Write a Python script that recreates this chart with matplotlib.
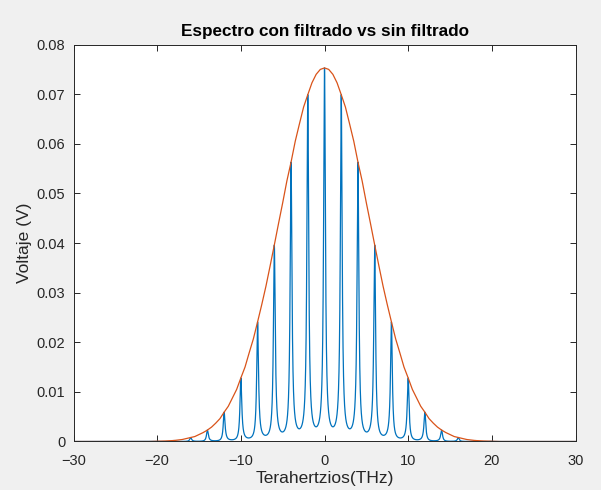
import numpy as np
import matplotlib
matplotlib.use("Agg")
import matplotlib.pyplot as plt

# Envelope (orange) at |x| (THz); curve is symmetric about 0
env_pos = [0.0, 0.5, 1.0, 1.5, 2.0, 2.5, 3.0, 3.5, 4.0, 4.5, 5.0, 5.5, 6.0, 6.5,
           7.0, 7.5, 8.0, 8.5, 9.0, 9.5, 10.0, 10.5, 11.0, 11.5, 12.0, 12.5,
           13.0, 13.5, 14.0, 14.5, 15.0, 15.5, 16.0, 17.0, 18.0, 19.0, 20.0,
           21.0, 25.0, 30.0]
env_val = [0.0753, 0.0750, 0.0740, 0.0723, 0.0699, 0.0674, 0.0640, 0.0605,
           0.0563, 0.0525, 0.0481, 0.0439, 0.0396, 0.0354, 0.0313, 0.0276,
           0.0241, 0.0207, 0.0179, 0.0150, 0.0128, 0.0105, 0.0088, 0.0071,
           0.0059, 0.0046, 0.0037, 0.0029, 0.0023, 0.0018, 0.0014, 0.0010,
           0.0008, 0.0004, 0.0002, 0.0001, 0.00005, 0.0, 0.0, 0.0]

# Comb (blue): peaks every 2 THz touch the envelope; troughs read ~4% of envelope
comb_period = 2.0
trough_ratio = 0.04

x_ticks = [-30, -20, -10, 0, 10, 20, 30]
y_ticks = [0, 0.01, 0.02, 0.03, 0.04, 0.05, 0.06, 0.07, 0.08]
y_ticklabels = ["0", "0.01", "0.02", "0.03", "0.04", "0.05", "0.06", "0.07", "0.08"]

env_x = np.array([-p for p in env_pos[:0:-1]] + env_pos)
env_y = np.array(env_val[:0:-1] + env_val)

plt.rcParams['font.family'] = ['Liberation Sans', 'DejaVu Sans']

fig = plt.figure(figsize=(6.01, 4.90), dpi=100, facecolor='#f0f0f0')
ax = fig.add_axes([0.1223, 0.099, 0.8353, 0.810])
ax.set_facecolor('white')

xd = np.linspace(-30, 30, 12001)
env_d = np.interp(xd, env_x, env_y)
F = 1.0 / trough_ratio - 1.0
airy = 1.0 / (1.0 + F * np.sin(np.pi * xd / comb_period) ** 2)
ax.plot(xd, env_d * airy, color='#0072BD', lw=0.9)
ax.plot(env_x, env_y, color='#D95319', lw=0.9)

ax.set_xlim(-30, 30)
ax.set_ylim(0, 0.08)
ax.set_xticks(x_ticks)
ax.set_yticks(y_ticks)
ax.set_yticklabels(y_ticklabels)
ax.tick_params(direction='in', length=4, width=0.7, top=True, right=True,
               colors='#262626', labelsize=10.5)
ax.tick_params(axis='x', pad=9)
ax.tick_params(axis='y', pad=6)
for s in ax.spines.values():
    s.set_color('#262626')
    s.set_linewidth(0.7)

ax.set_title('Espectro con filtrado vs sin filtrado', fontsize=12.3,
             fontweight='bold', color='black', pad=6)
ax.set_xlabel('Terahertzios(THz)', fontsize=12.5, color='#262626', labelpad=2)
ax.set_ylabel('Voltaje (V)', fontsize=12.5, color='#262626', labelpad=3)

fig.savefig('out.png', dpi=100, facecolor=fig.get_facecolor())
